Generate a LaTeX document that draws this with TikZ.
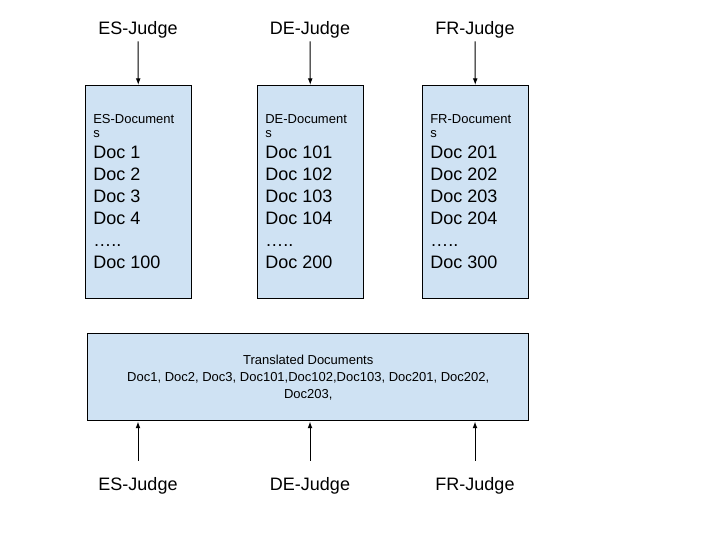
\documentclass[tikz,border=0pt]{standalone}
\usepackage{fontspec}
\setmainfont{Liberation Sans}
\usetikzlibrary{arrows.meta}

\definecolor{docblue}{HTML}{CFE2F3}

\tikzset{
	docbox/.style={draw=black, line width=1.1pt, fill=docblue, anchor=north west, inner sep=0pt},
	judge/.style={font=\fontsize{13.5}{16}\selectfont, inner sep=2.5pt},
	small/.style={font=\fontsize{9.75}{10.5}\selectfont},
	big/.style={font=\fontsize{13.5}{16.5}\selectfont},
	arr/.style={-{Latex[length=5pt,width=3.6pt]}, line width=0.75pt},
}

\begin{document}
\begin{tikzpicture}[x=0.75pt, y=-0.75pt]
	\useasboundingbox (0,0) rectangle (720,540);

	% Translated documents
	\node[docbox, minimum width=330.75pt, minimum height=65.25pt, align=center,
		font=\fontsize{9.75}{12.75}\selectfont] (trans) at (87,333)
		{Translated Documents\\Doc1, Doc2, Doc3, Doc101,Doc102,Doc103, Doc201, Doc202,\\Doc203,};

	% Languages
	\foreach \lang/\x/\first in {ES/85/1, DE/257/101, FR/422/201} {
		\pgfmathtruncatemacro{\docb}{\first+1}
		\pgfmathtruncatemacro{\docc}{\first+2}
		\pgfmathtruncatemacro{\docd}{\first+3}
		\pgfmathtruncatemacro{\last}{\first+99}

		\node[docbox, minimum width=79.5pt, minimum height=159.75pt] (\lang-docs) at (\x,85) {};
		\node[small, anchor=north west, inner sep=0pt, align=left] (\lang-head)
			at ([xshift=6pt, yshift=-21.75pt]\lang-docs.north west) {\lang-Document\\s};
		\node[big, anchor=north west, inner sep=0pt, align=left] (\lang-list)
			at ([xshift=6pt, yshift=-45.75pt]\lang-docs.north west)
			{Doc \first\\Doc \docb\\Doc \docc\\Doc \docd\\…..\\Doc \last};

		\node[judge, anchor=base] (\lang-judge) at (\x+53,34) {\lang-Judge};
		\draw[arr] (\lang-judge) -- (\lang-docs);

		\node[judge, anchor=base] (\lang-judge2) at (\x+53,490) {\lang-Judge};
		\draw[arr, shorten <=9.5pt] (\lang-judge2.north) -- (\lang-judge2.north |- trans.south);
	}
\end{tikzpicture}
\end{document}
